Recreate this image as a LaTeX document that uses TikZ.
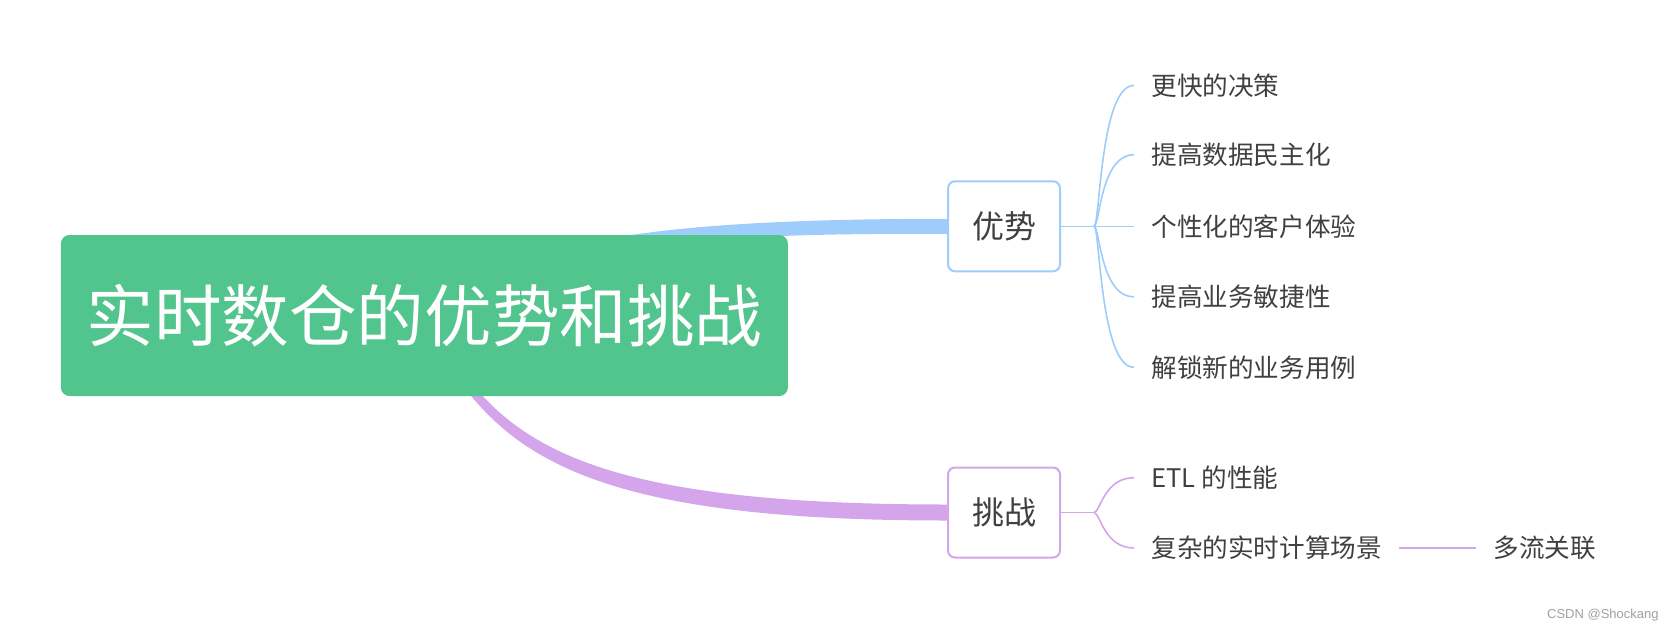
\documentclass[tikz,border=0pt]{standalone}
\usepackage{fontspec}
\setmainfont{Noto Sans CJK SC}
\newfontfamily\markfont{Liberation Sans}
\usepackage{xcolor}
\usetikzlibrary{backgrounds}
\definecolor{rootgreen}{RGB}{82,196,141}
\definecolor{advblue}{RGB}{158,204,251}
\definecolor{chalpurple}{RGB}{212,165,234}
\definecolor{textgray}{RGB}{64,64,64}
\definecolor{markgray}{RGB}{160,160,160}
\tikzset{
  rootbox/.style={fill=rootgreen,rounded corners=4.3pt,inner sep=0pt,minimum width=363.5pt,minimum height=80.5pt,text=white,font=\fontsize{33.8pt}{36pt}\selectfont},
  topicbox/.style={draw,fill=white,line width=1pt,rounded corners=3.5pt,minimum width=56pt,minimum height=45pt,text=textgray,font=\fontsize{16pt}{18pt}\selectfont},
  leaf/.style={anchor=west,inner xsep=8.5pt,text=textgray,font=\fontsize{12.8pt}{14pt}\selectfont},
  twig/.style={line width=0.8pt}
}

\begin{document}
\begin{tikzpicture}[x=0.5pt,y=-0.5pt]
\useasboundingbox (0,0) rectangle (1674,632);
\node[rootbox] (Root) at (424.4,315.5) {实时数仓的优势和挑战};
\node[topicbox,draw=advblue] (Adv) at (1004,226.3) {优势};
\node[topicbox,draw=chalpurple] (Chal) at (1004,512.5) {挑战};
\coordinate (AdvJ) at (1094,226.3);
\coordinate (ChalJ) at (1094,512.5);
\node[leaf] (A1) at (1134,85.4) {更快的决策};
\node[leaf] (A2) at (1134,154.8) {提高数据民主化};
\node[leaf] (A3) at (1134,226.3) {个性化的客户体验};
\node[leaf] (A4) at (1134,296.8) {提高业务敏捷性};
\node[leaf] (A5) at (1134,367.3) {解锁新的业务用例};
\node[leaf] (C1) at (1134,477.7) {ETL 的性能};
\node[leaf] (C2) at (1134,548) {复杂的实时计算场景};
\node[leaf] (C3) at (1476,548) {多流关联};
\node[anchor=east,inner sep=0pt,text=markgray,font=\markfont\fontsize{6.5pt}{8pt}\selectfont] (Mark) at (1659,615.5) {CSDN @Shockang};
\begin{scope}[on background layer]
\fill[advblue] ([yshift=3pt]Root.center) .. controls (515,233) and (700,219) .. ([yshift=3.75pt]Adv.west) -- ([yshift=-3.75pt]Adv.west) .. controls (700,233) and (515,244) .. ([yshift=-3pt]Root.center) -- cycle;
\fill[chalpurple] ([xshift=2pt]Root.center) .. controls (492,434) and (560,504.5) .. ([yshift=4pt]Chal.west) -- ([yshift=-4pt]Chal.west) .. controls (560,520.5) and (488,446) .. ([xshift=-2pt]Root.center) -- cycle;
\end{scope}
\draw[twig,advblue] (Adv) -- (AdvJ);
\draw[twig,advblue] (AdvJ) .. controls +(6,0) and +(-34,0) .. (A1.west);
\draw[twig,advblue] (AdvJ) .. controls +(6,0) and +(-34,0) .. (A2.west);
\draw[twig,advblue] (AdvJ) -- (A3.west);
\draw[twig,advblue] (AdvJ) .. controls +(6,0) and +(-34,0) .. (A4.west);
\draw[twig,advblue] (AdvJ) .. controls +(6,0) and +(-34,0) .. (A5.west);
\draw[twig,chalpurple] (Chal) -- (ChalJ);
\draw[twig,chalpurple] (ChalJ) .. controls +(6,0) and +(-30,0) .. (C1.west);
\draw[twig,chalpurple] (ChalJ) .. controls +(6,0) and +(-30,0) .. (C2.west);
\draw[twig,chalpurple] (C2) -- (C3);
\end{tikzpicture}
\end{document}
